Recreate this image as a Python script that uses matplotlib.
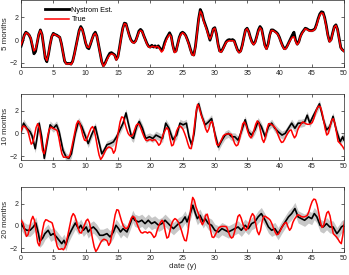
import numpy as np
import matplotlib
matplotlib.use("Agg")
import matplotlib.pyplot as plt

plt.rcParams['font.family'] = ['Liberation Sans', 'DejaVu Sans']

# observed series, sampled every 0.25 y (panel-1 time axis, runs a bit past 50)
true_v = [
    -0.4, -0.05, 0.4, 0.65, 0.6, 0.45, 0.2, -0.4,
    -0.95, -0.8, -0.2, 0.5, 0.85, 0.5, -0.5, -1.5,
    -1.8, -1.2, -0.4, 0.3, 0.55, 0.5, 0.4, 0.35,
    0.25, -0.3, -1.1, -1.8, -2.1, -2.1, -2.05, -2.15,
    -1.9, -1.3, -0.6, 0.1, 0.8, 1.1, 0.9, 0.4,
    -0.2, -0.6, -0.65, -0.3, 0.1, 0.45, 0.6, 0.3,
    -0.4, -1.2, -1.9, -2.3, -2.1, -1.8, -1.5, -1.3,
    -1.2, -1.25, -1.35, -1.75, -1.5, -0.7, 0.2, 1.0,
    1.45, 1.4, 0.9, 0.4, 0.0, -0.2, -0.25, -0.1,
    0.3, 0.7, 0.85, 0.75, 0.4, 0.0, -0.35, -0.6,
    -0.65, -0.55, -0.55, -0.65, -0.55, -0.6, -0.8, -1.05,
    -0.9, -0.4, 0.0, 0.3, 0.5, 0.3, -0.5, -1.1,
    -1.0, -0.4, 0.2, 0.5, 0.65, 0.55, 0.35, 0.0,
    -0.4, -0.9, -1.3, -1.35, -0.6, 0.6, 1.8, 2.55,
    2.3, 1.7, 1.3, 0.9, 0.4, 0.1, 0.4, 0.95,
    1.05, 0.5, -0.4, -1.0, -1.05, -0.8, -0.5, -0.2,
    -0.1, -0.05, -0.05, -0.05, -0.1, -0.5, -0.9, -1.1,
    -1.0, -0.5, 0.2, 0.85, 1.0, 0.7, 0.2, -0.2,
    -0.4, -0.2, 0.3, 0.8, 1.1, 0.9, 0.2, -0.5,
    -0.8, -0.4, 0.4, 0.85, 0.85, 0.75, 0.65, 0.5,
    0.2, -0.2, -0.55, -0.8, -0.75, -0.5, -0.2, 0.05,
    0.25, 0.3, -0.1, -0.4, -0.2, 0.3, 0.6, 0.8,
    1.0, 0.95, 0.85, 0.8, 0.8, 0.85, 0.95, 1.3,
    1.8, 2.2, 2.4, 2.35, 1.9, 1.2, 0.4, -0.15,
    0.0, 0.6, 1.15, 1.3, 0.9, 0.1, -0.7, -0.85,
    -1.0, -1.2, -1.45, -1.6, -0.8, 0.4,
]
true_t = np.arange(len(true_v)) * 0.25
# lead of each panel's target date (years) relative to the 5-month panel
lead = [0.0, 0.42, 1.17]

# Nystrom estimate, 5 months ahead (every 0.25 y)
est5_v = [
    -0.55, -0.1, 0.45, 0.7, 0.6, 0.45, 0.15, -0.5,
    -1.2, -1.0, -0.25, 0.5, 0.9, 0.5, -0.5, -1.6,
    -1.9, -1.25, -0.4, 0.3, 0.6, 0.5, 0.45, 0.35,
    0.25, -0.3, -1.1, -1.85, -2.05, -2.05, -2.05, -2.1,
    -1.85, -1.25, -0.55, 0.15, 0.85, 1.2, 0.95, 0.4,
    -0.25, -0.65, -0.75, -0.35, 0.1, 0.5, 0.7, 0.35,
    -0.4, -1.2, -1.9, -2.25, -2.05, -1.7, -1.4, -1.15,
    -1.1, -1.2, -1.3, -1.7, -1.45, -0.65, 0.25, 1.05,
    1.5, 1.45, 0.95, 0.45, 0.05, -0.15, -0.2, -0.05,
    0.35, 0.8, 0.95, 0.8, 0.4, 0.05, -0.3, -0.55,
    -0.6, -0.45, -0.6, -0.5, -0.65, -0.5, -0.7, -0.9,
    -0.7, -0.2, 0.15, 0.4, 0.65, 0.35, -0.45, -1.0,
    -0.95, -0.35, 0.25, 0.6, 0.7, 0.6, 0.4, 0.05,
    -0.35, -0.85, -1.25, -1.3, -0.55, 0.65, 1.9, 2.7,
    2.4, 1.8, 1.4, 1.0, 0.5, 0.0, 0.45, 1.0,
    1.1, 0.55, -0.35, -0.95, -1.0, -0.75, -0.45, -0.15,
    0.0, 0.05, 0.0, 0.05, -0.05, -0.45, -0.85, -1.05,
    -0.95, -0.45, 0.25, 0.9, 1.05, 0.75, 0.25, -0.15,
    -0.35, -0.15, 0.35, 0.9, 1.2, 1.0, 0.25, -0.45,
    -0.75, -0.35, 0.45, 0.9, 0.9, 0.8, 0.7, 0.55,
    0.25, -0.15, -0.5, -0.75, -0.7, -0.45, -0.15, 0.15,
    0.45, 0.7, 0.0, -0.35, -0.15, 0.35, 0.65, 0.85,
    1.05, 1.0, 0.9, 0.85, 0.85, 0.9, 1.0, 1.4,
    1.9, 2.3, 2.5, 2.45, 2.0, 1.3, 0.45, -0.1,
    0.05, 0.65, 1.2, 1.35, 0.95, 0.15, -0.65, -0.85,
    -0.95,
]
est5_t = np.arange(len(est5_v)) * 0.25

# Nystrom estimate, 10 months ahead
est10_t = [0, 0.4, 0.9, 1.4, 1.7, 2.2, 2.5, 2.8, 3.2, 3.6, 4.0, 4.5, 5.0, 5.5,
           5.9, 6.5, 7.0, 7.4, 7.8, 8.4, 8.9, 9.4, 9.9, 10.4, 10.9, 11.5, 12.0,
           12.5, 12.85, 13.3, 13.8, 14.3, 14.8, 15.3, 15.8, 16.25, 16.6, 17.1,
           17.4, 17.9, 18.3, 18.8, 19.3, 19.9, 20.4, 20.9, 21.4, 21.9, 22.4,
           22.9, 23.5, 24.1, 24.6, 25.1, 25.6, 26.0, 26.4, 26.8, 27.2, 27.5,
           28.0, 28.5, 29.0, 29.5, 30.0, 30.55, 31.1, 31.6, 32.1, 32.6, 33.1,
           33.6, 34.1, 34.7, 35.2, 35.7, 36.2, 36.7, 37.2, 37.8, 38.3, 38.8,
           39.3, 39.8, 40.4, 40.9, 41.4, 41.9, 42.4, 42.9, 43.4, 43.9, 44.3,
           44.7, 45.2, 45.7, 46.2, 46.8, 47.3, 47.8, 48.3, 48.8, 49.4, 49.8, 50.0]
est10_v = [0.15, 0.9, 0.45, 0.15, -0.2, -1.35, -0.3, 0.9, -0.3, -2.2, -0.9, 0.75,
           0.45, 0.75, 0.15, -1.5, -2.1, -2.2, -1.8, 0.0, 1.05, 0.6, -0.15, -0.9,
           -0.15, 0.6, -0.6, -1.8, -1.5, -1.0, -0.9, -0.75, -0.3, 0.3, 0.9, 1.8,
           0.9, -0.3, -0.45, 0.6, 1.05, 0.45, -0.45, -0.3, -0.45, -0.15, -0.3,
           -0.45, 0.9, 0.45, -0.55, -0.15, 0.9, 0.75, 0.9, -0.3, -1.0, 0.0, 2.2,
           2.6, 1.5, 0.75, 1.0, 1.3, 0.0, -1.2, -0.6, -0.15, 0.0, -0.3, -0.3,
           -0.6, 0.15, 1.2, 0.15, -0.15, 0.3, 1.05, 0.6, -0.3, 0.6, 0.9, 0.45,
           0.15, -0.15, 0.0, 0.45, 0.9, 0.45, 0.9, 0.9, 1.0, 1.6, 0.9, 1.5, 2.05,
           2.6, 1.2, 0.3, 0.6, 1.5, 0.3, -0.75, -0.3, -0.6]

# Nystrom estimate, 20 months ahead
est20_t = [0, 0.5, 0.9, 1.4, 1.9, 2.3, 2.7, 2.9, 3.35, 3.7, 4.2, 4.6, 5.0, 5.5,
           5.9, 6.3, 6.65, 6.95, 7.3, 7.8, 8.4, 8.9, 9.25, 9.65, 10.1, 10.4,
           10.8, 11.2, 11.7, 12.2, 12.7, 13.3, 13.8, 14.3, 14.7, 15.1, 15.4,
           15.8, 16.4, 16.9, 17.3, 17.6, 18.2, 18.7, 19.2, 19.7, 20.2, 20.7,
           21.3, 21.8, 22.3, 22.8, 23.3, 23.6, 24.4, 24.9, 25.4, 25.7, 26.2,
           26.6, 27.0, 27.3, 27.7, 28.2, 28.5, 29.0, 29.5, 30.0, 30.55, 31.1,
           31.6, 32.1, 32.6, 33.1, 33.6, 34.1, 34.7, 35.2, 35.7, 36.2, 36.7,
           37.2, 37.8, 38.3, 38.8, 39.3, 39.8, 40.4, 40.9, 41.4, 41.9, 42.4,
           42.9, 43.4, 43.9, 44.5, 45.0, 45.4, 45.8, 46.3, 46.8, 47.3, 47.8,
           48.3, 48.9, 49.3, 49.6, 50.0]
est20_v = [0.2, -0.25, -0.4, -0.4, -0.1, 0.25, -0.7, -1.4, -1.1, -0.7, -0.4,
           -0.85, -0.7, -1.0, -1.3, -1.6, -1.3, -1.7, -1.0, -0.4, 0.25, -0.25,
           0.05, -0.4, -0.1, -0.55, -0.25, -0.1, -0.4, -0.85, -0.85, -0.7, -1.0,
           -0.55, 0.05, -0.25, -0.55, -0.25, -0.55, 0.2, 0.85, 0.5, 0.35, 0.5,
           0.2, 0.5, 0.2, 0.35, 0.05, 0.2, 0.5, 0.2, -0.1, -0.25, 0.2, 0.35, 0.8,
           0.35, 1.1, 1.85, 1.1, 0.65, 0.95, 0.35, 0.65, 0.2, 0.05, -0.4, -0.55,
           -0.25, -0.4, -0.55, -0.4, -0.25, -0.1, -0.4, 0.05, -0.25, 0.2, 0.35,
           0.8, 1.1, 0.5, -0.1, -0.4, -0.25, -0.7, -0.1, 0.35, 0.8, 1.1, 1.55,
           0.8, 0.65, 0.5, 0.8, 0.65, 1.1, 0.8, 0.05, -0.1, 0.2, -0.1, -0.1,
           -0.7, -0.4, -0.1, 0.05]

# half width of the grey uncertainty band per panel
band_hw = [0.12, 0.35, 0.55]

ylabels = ["5 months", "10 months", "20 months"]
xticks = list(range(0, 51, 5))
yticks = [-2, 0, 2]

est_series = [(est5_t, est5_v), (est10_t, est10_v), (est20_t, est20_v)]

fig = plt.figure(figsize=(3.49, 2.75), dpi=100)
axc = (0.15, 0.15, 0.15)
lefts = 0.0602
width = 0.9255
bottoms = [0.757, 0.418, 0.0836]
heights = [0.2415, 0.2415, 0.237]

for i in range(3):
    ax = fig.add_axes([lefts, bottoms[i], width, heights[i]])
    et, ev = np.asarray(est_series[i][0]), np.asarray(est_series[i][1])
    ax.fill_between(et, ev - band_hw[i], ev + band_hw[i], color=(0.78, 0.78, 0.78),
                    lw=0, zorder=1)
    lw_est = 2.0 if i == 0 else 1.2
    ax.plot(et, ev, color='black', lw=lw_est, zorder=2, label='Nystrom Est.')
    ax.plot(true_t - lead[i], true_v, color=(1, 0, 0), lw=1.1, zorder=3, label='True')
    ax.set_xlim(0, 50)
    ax.set_ylim(-2.35, 3.5)
    ax.set_xticks(xticks)
    ax.set_yticks(yticks)
    ax.tick_params(direction='in', length=2, width=0.5, labelsize=5, pad=2,
                   colors=axc, top=True, right=True)
    for s in ax.spines.values():
        s.set_linewidth(0.5)
        s.set_color(axc)
    ax.set_ylabel(ylabels[i], fontsize=5.8, color=axc, labelpad=1)
    if i == 0:
        ax.legend(loc='upper left', bbox_to_anchor=(0.06, 0.97), frameon=False,
                  fontsize=5.2, handlelength=3.4, handletextpad=0.3,
                  borderaxespad=0.2, labelspacing=0.35)
    if i == 2:
        ax.set_xlabel("date (y)", fontsize=5.8, color=axc, labelpad=1)

fig.savefig("out.png", dpi=100)
